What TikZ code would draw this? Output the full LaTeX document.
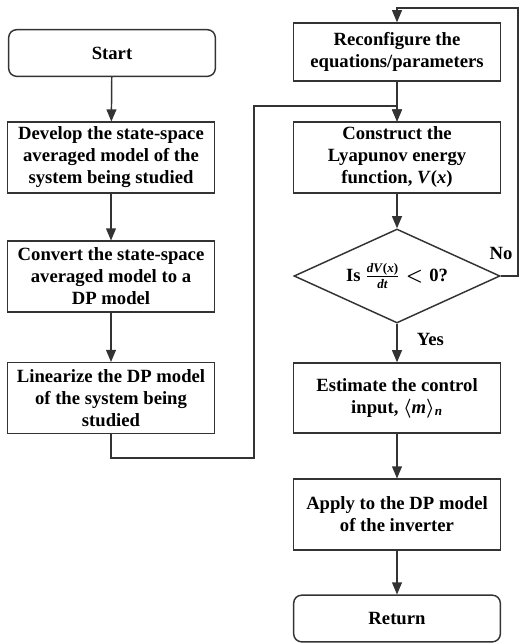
\documentclass[tikz,border=0pt]{standalone}
\usepackage{amsmath,amssymb,bm}
\usepackage{fontspec}
\setmainfont{Liberation Serif}
\usetikzlibrary{arrows,shapes.geometric,positioning}

\tikzset{
  blk/.style={draw=black!80, line width=1.1pt, minimum width=155pt, minimum height=53pt, inner sep=2pt, align=center, font=\fontsize{14}{16.5}\selectfont\bfseries\boldmath},
  term/.style={blk, rounded corners=6pt, minimum height=35pt},
  dec/.style={diamond, aspect=2.19, draw=black!80, line width=1.1pt, minimum width=154.5pt, minimum height=70.5pt, inner sep=0pt, align=center, font=\fontsize{14}{16.5}\selectfont\bfseries\boldmath},
  ln/.style={draw=black!80, line width=1.1pt},
  lbl/.style={font=\fontsize{14}{16.5}\selectfont\bfseries}
}

\begin{document}
\begin{tikzpicture}[x=0.75pt,y=-0.75pt,>=triangle 45]
	\useasboundingbox (0,0) rectangle (532,643);

	% left column
	\node[term] (start) at (112,53) {Start};
	\node[blk] (develop) at (111,157.5) {Develop the state-space\\averaged model of the\\system being studied};
	\node[blk] (convert) at (111,276.5) {Convert the state-space\\averaged model to a\\DP model};
	\node[blk] (linear) at (111,398) {Linearize the DP model\\of the system being\\studied};

	% right column
	\node[blk, minimum height=43.5pt] (reconf) at (397,52) {Reconfigure the\\equations/parameters};
	\node[blk] (construct) at (397,157.5) {Construct the\\Lyapunov energy\\function, \textit{V}(\textit{x})};
	\node[dec] (check) at (397,276) {Is $\frac{\text{\textit{dV}(\textit{x})}}{\text{\textit{dt}}} < \text{0}$?};
	\node[blk, minimum height=52.5pt] (estimate) at (397,398) {Estimate the control\\input, $\bm{\langle}\text{\textit{m}}\bm{\rangle}_{\text{\textit{n}}}$};
	\node[blk] (apply) at (397,514.5) {Apply to the DP model\\of the inverter};
	\node[term] (return) at (397,618.5) {Return};

	\coordinate (lowL) at (254,458); \coordinate (upL) at (254,106);
	\coordinate (topR) at (518,8);

	\draw[ln,->] (start) -- (develop);
	\draw[ln,->] (develop) -- (convert);
	\draw[ln,->] (convert) -- (linear);
	\draw[ln,->] (linear.south) |- (lowL) -- (upL) -| (construct.north);
	\draw[ln,->] (reconf) -- (construct);
	\draw[ln,->] (construct) -- (check);
	\draw[ln,->] (check) -- (estimate) node[lbl, pos=0.4, right=11pt] {Yes};
	\draw[ln,->] (check.east) -| (topR) -| (reconf.north);
	\node[lbl] (no) at (501,253) {No};
	\draw[ln,->] (estimate) -- (apply);
	\draw[ln,->] (apply) -- (return);
\end{tikzpicture}
\end{document}
